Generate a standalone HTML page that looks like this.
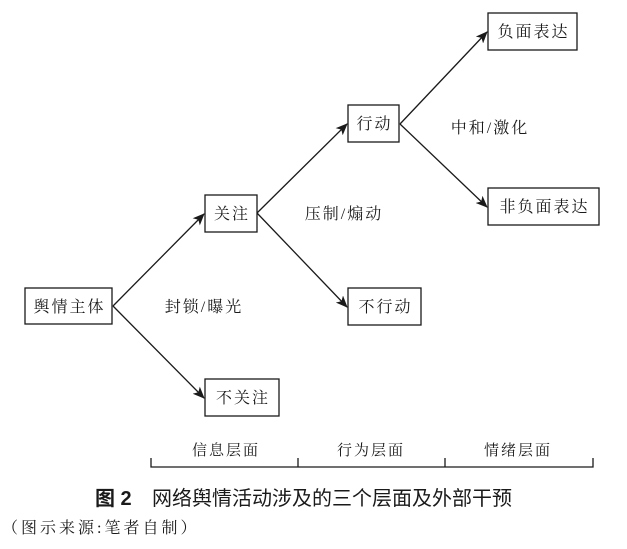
<!DOCTYPE html>
<html><head><meta charset="utf-8"><style>
html,body{margin:0;padding:0;background:#fff;}
svg{display:block;}
text{font-family:"Liberation Serif","Noto Serif CJK SC",serif;fill:#1a1a1a;}
</style></head><body>
<svg width="627" height="549" viewBox="0 0 627 549" xmlns="http://www.w3.org/2000/svg">
<defs><marker id="a" markerWidth="12" markerHeight="10" refX="11" refY="5" orient="auto" markerUnits="userSpaceOnUse"><path d="M0,0 L12,5 L0,10 L3,5 Z" fill="#1a1a1a"/></marker></defs>
<g fill="none" stroke="#1a1a1a" stroke-width="1.3">
<rect x="25" y="288" width="87" height="36"/>
<rect x="205" y="195" width="52" height="37"/>
<rect x="205" y="379" width="74" height="37"/>
<rect x="348" y="105" width="51" height="37"/>
<rect x="348" y="288" width="73" height="37"/>
<rect x="488" y="13" width="89" height="37"/>
<rect x="488" y="188" width="111" height="37"/>
<line x1="113" y1="306" x2="204" y2="214" marker-end="url(#a)"/>
<line x1="113" y1="306" x2="204" y2="398" marker-end="url(#a)"/>
<line x1="257" y1="213" x2="347" y2="124" marker-end="url(#a)"/>
<line x1="257" y1="213" x2="347" y2="307" marker-end="url(#a)"/>
<line x1="400" y1="124" x2="487" y2="32" marker-end="url(#a)"/>
<line x1="400" y1="124" x2="487" y2="207" marker-end="url(#a)"/>
<path d="M151,458 V467 H593 V458 M298,458 V467 M445,458 V467"/>
</g>
<g font-size="16" letter-spacing="2">
<text x="69.5" y="312" text-anchor="middle">舆情主体</text>
<text x="232" y="219" text-anchor="middle">关注</text>
<text x="243" y="403" text-anchor="middle">不关注</text>
<text x="374.5" y="129" text-anchor="middle">行动</text>
<text x="385.5" y="312" text-anchor="middle">不行动</text>
<text x="533.5" y="37" text-anchor="middle">负面表达</text>
<text x="544.5" y="212" text-anchor="middle">非负面表达</text>
<text x="204" y="312" text-anchor="middle">封锁/曝光</text>
<text x="344" y="219" text-anchor="middle">压制/煽动</text>
<text x="490" y="133" text-anchor="middle">中和/激化</text>
<text x="226" y="455" text-anchor="middle" font-size="15">信息层面</text>
<text x="371" y="455" text-anchor="middle" font-size="15">行为层面</text>
<text x="518" y="455" text-anchor="middle" font-size="15">情绪层面</text>
</g>
<text x="95" y="505" font-size="20" style="font-family:'Liberation Sans','Noto Sans CJK SC',sans-serif"><tspan font-weight="bold">图 2</tspan><tspan x="152">网络舆情活动涉及的三个层面及外部干预</tspan></text>
<text x="2" y="533" font-size="16" letter-spacing="3">（图示来源:笔者自制）</text>
</svg>
</body></html>
